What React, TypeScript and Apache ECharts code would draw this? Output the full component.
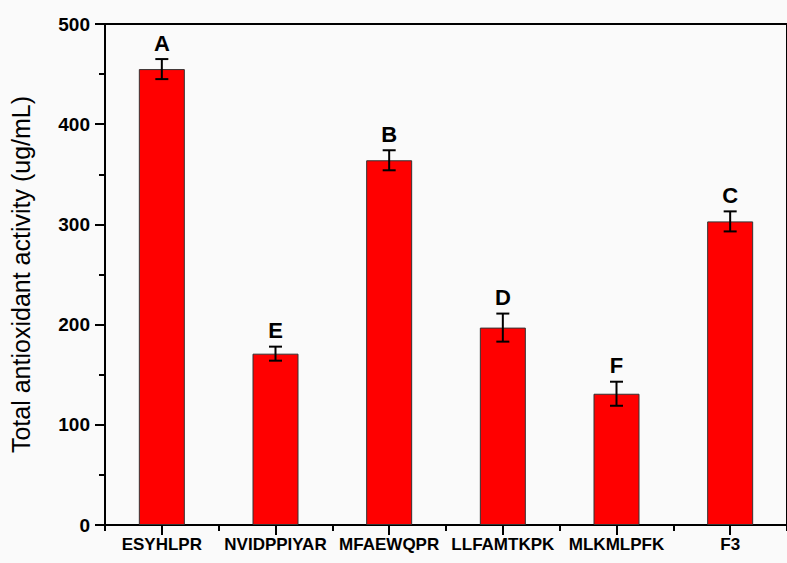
import React, { useEffect, useRef } from "react";
import * as echarts from "echarts";

const categories = ["ESYHLPR", "NVIDPPIYAR", "MFAEWQPR", "LLFAMTKPK", "MLKMLPFK", "F3"];
const values = [455, 171, 364, 197, 131, 303];
const errors = [10, 7, 10, 14, 12, 10];
const letters = ["A", "E", "B", "D", "F", "C"];
const yTicks = { min: 0, max: 500, interval: 100 };

const FONT = "'Liberation Sans', Arial, Helvetica, sans-serif";

export default function App() {
  const ref = useRef<HTMLDivElement>(null);
  useEffect(() => {
    if (!ref.current) return;
    const chart = echarts.init(ref.current, null, { renderer: "svg" });
    const option: any = {
      animation: false,
      backgroundColor: "#fafafa",
      grid: { left: 98, top: 24, width: 697, height: 501, containLabel: false },
      xAxis: [
        {
          type: "category",
          data: categories,
          position: "bottom",
          axisLine: { show: true, lineStyle: { color: "#000", width: 2 } },
          axisTick: { show: true, alignWithLabel: true, length: 10, lineStyle: { color: "#000", width: 2 } },
          axisLabel: { color: "#000", fontWeight: "bold", fontSize: 17, fontFamily: FONT, margin: 11, interval: 0 },
          splitLine: { show: false },
        },
        {
          type: "category",
          data: categories,
          position: "bottom",
          axisLine: { show: false },
          axisTick: { show: true, length: 6, lineStyle: { color: "#000", width: 2 } },
          axisLabel: { show: false },
          splitLine: { show: false },
        },
        {
          type: "category",
          data: categories,
          position: "top",
          axisLine: { show: true, lineStyle: { color: "#000", width: 2 } },
          axisTick: { show: false },
          axisLabel: { show: false },
          splitLine: { show: false },
        },
      ],
      yAxis: [
        {
          type: "value",
          min: yTicks.min,
          max: yTicks.max,
          interval: yTicks.interval,
          name: "Total antioxidant activity (ug/mL)",
          nameLocation: "middle",
          nameGap: 72,
          nameTextStyle: { color: "#000", fontSize: 25, fontFamily: FONT },
          axisLine: { show: true, lineStyle: { color: "#000", width: 2 } },
          axisTick: { show: true, length: 10, lineStyle: { color: "#000", width: 2 } },
          minorTick: { show: true, splitNumber: 2, length: 6, lineStyle: { color: "#000", width: 2 } },
          axisLabel: { color: "#000", fontWeight: "bold", fontSize: 19, fontFamily: FONT, margin: 15 },
          splitLine: { show: false },
        },
        {
          type: "value",
          min: yTicks.min,
          max: yTicks.max,
          interval: yTicks.interval,
          position: "right",
          axisLine: { show: true, lineStyle: { color: "#000", width: 2 } },
          axisTick: { show: false },
          axisLabel: { show: false },
          splitLine: { show: false },
        },
      ],
      series: [
        {
          type: "bar",
          xAxisIndex: 0,
          yAxisIndex: 0,
          data: values,
          barWidth: 46,
          itemStyle: { color: "#ff0000", borderColor: "#333", borderWidth: 1 },
          z: 2,
        },
        {
          type: "custom",
          xAxisIndex: 0,
          yAxisIndex: 0,
          z: 5,
          data: values.map((v, i) => [i, v, errors[i]]),
          renderItem: (params: any, api: any) => {
            const i = api.value(0);
            const v = api.value(1);
            const e = api.value(2);
            const top = api.coord([i, v + e]);
            const bot = api.coord([i, v - e]);
            const x = top[0];
            const half = 6.5;
            const ls = { stroke: "#000", lineWidth: 2 };
            return {
              type: "group",
              children: [
                { type: "line", shape: { x1: x, y1: top[1], x2: x, y2: bot[1] }, style: ls },
                { type: "line", shape: { x1: x - half, y1: top[1], x2: x + half, y2: top[1] }, style: ls },
                { type: "line", shape: { x1: x - half, y1: bot[1], x2: x + half, y2: bot[1] }, style: ls },
                {
                  type: "text",
                  style: {
                    text: letters[params.dataIndex],
                    x: x,
                    y: top[1] - 5,
                    align: "center",
                    verticalAlign: "bottom",
                    fill: "#000",
                    font: `bold 22px ${FONT}`,
                  },
                },
              ],
            };
          },
        },
      ],
    };
    chart.setOption(option);
    return () => chart.dispose();
  }, []);
  return (
    <div
      ref={ref}
      style={{ position: "fixed", left: 0, top: 0, width: 787, height: 563 }}
    />
  );
}
